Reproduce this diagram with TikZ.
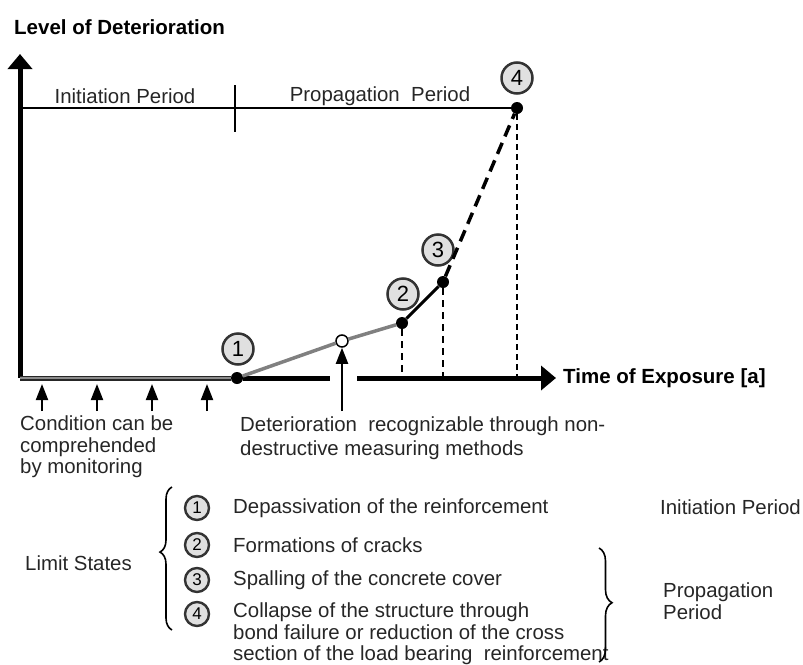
\documentclass[tikz,border=0pt]{standalone}
\usepackage{fontspec}
\setmainfont{Liberation Sans}
\usetikzlibrary{arrows.meta,decorations.pathreplacing}
\newcommand{\txtfont}{\fontsize{20.4}{21.5}\selectfont}
\newcommand{\boldfont}{\fontsize{20.5}{24}\selectfont\bfseries}
\begin{document}
\begin{tikzpicture}[x=1pt,y=-1pt,
	txt/.style={font=\txtfont, text=black!85, inner sep=0pt},
	dot/.style={fill=black, circle, inner sep=0pt, minimum size=12pt},
	opendot/.style={fill=white, draw=black, line width=1.5pt, circle, inner sep=0pt, minimum size=12pt},
	num/.style={circle, fill=black!12, draw=black!80, line width=2.5pt, inner sep=0pt, minimum size=31pt, font=\fontsize{22}{22}\selectfont},
	smallnum/.style={num, minimum size=24pt, line width=2.4pt, font=\fontsize{17}{17}\selectfont},
	axis/.style={line width=5pt, -{Triangle[width=24pt,length=15pt]}},
	uparrow/.style={line width=2pt, -{Triangle[width=12pt,length=16pt]}},
	drop/.style={line width=2pt, dash pattern=on 7pt off 5pt}]
	\useasboundingbox (0,0) rectangle (803,664);
	\node [anchor=west, font=\boldfont, inner sep=0pt] (ylabel) at (14,27) {Level of Deterioration};
	\coordinate (o) at (20,378);
	\coordinate (ytop) at (20,54);
	\draw [axis] (o) -- (ytop);
	\node [dot] (p1) at (237,378) {};
	\node [opendot] (q) at (342,341) {};
	\node [dot] (p2) at (402,323) {};
	\node [dot] (p3) at (443,282) {};
	\node [dot] (p4) at (517,108) {};
	\node [num] (l1) at (238,349) {1};
	\node [num] (l2) at (403,294) {2};
	\node [num] (l3) at (438,250) {3};
	\node [num] (l4) at (517,78) {4};
	% periods
	\coordinate (t0) at (20,108);
	\coordinate (ta) at (235,85);
	\coordinate (tb) at (235,132);
	\draw [line width=2pt] (t0) -- (p4);
	\draw [line width=2pt] (ta) -- (tb);
	\node [txt] (ini) at (125,96) {Initiation Period};
	\node [txt] (prop) at (380,96) {Propagation\ \ Period};
	% time axis
	\coordinate (gapl) at (330,378);
	\coordinate (gapr) at (357,378);
	\coordinate (xend) at (556,378);
	\draw [line width=5pt, black!85] (o) -- (p1);
	\draw [line width=2.5pt, black!45] (o) -- (p1);
	\draw [line width=5pt] (p1) -- (gapl);
	\draw [axis] (gapr) -- (xend);
	\node [anchor=west, font=\boldfont, inner sep=0pt] (xlabel) at (563,378) {Time of Exposure [a]};
	% curve
	\draw [line width=3.5pt, black!50] (p1) -- (q) -- (p2);
	\draw [line width=3pt] (p2) -- (p3);
	\draw [line width=3.5pt, dash pattern=on 12pt off 7pt] (p3) -- (p4);
	\draw [drop] (p2) -- (p2 |- o);
	\draw [drop] (p3) -- (p3 |- o);
	\draw [line width=1.5pt, dash pattern=on 6pt off 4pt] (p4) -- (p4 |- o);
	% monitoring
	\foreach \x [count=\i] in {42,97,152,207} {
		\coordinate (ma\i) at (\x,411);
		\coordinate (mb\i) at (\x,384);
		\draw [uparrow] (ma\i) -- (mb\i);
	}
	\coordinate (nd) at (342,411);
	\draw [uparrow] (nd) -- (q);
	\node [txt, anchor=north west, align=left] (cond) at (20,416) {Condition can be\\comprehended\\by monitoring};
	\node [txt, anchor=north west, align=left, font=\fontsize{20.4}{24}\selectfont] (ndt) at (240,417) {Deterioration\ \ recognizable through non-\\destructive measuring methods};
	% limit states
	\foreach \n/\y/\t in {1/508/Depassivation of the reinforcement, 2/545/Formations of cracks, 3/580/Spalling of the concrete cover} {
		\node [smallnum] (s\n) at (197,\y) {\n};
		\node [txt, anchor=west] (d\n) at (233,\y) {\t};
	}
	\node [smallnum] (s4) at (197,614) {4};
	\node [txt, anchor=west, align=left] (d4) at (233,634) {Collapse of the structure through\\bond failure or reduction of the cross\\section of the load bearing\ \ reinforcement};
	\coordinate (ba) at (172,630);
	\coordinate (bb) at (172,487);
	\draw [line width=1.6pt, decorate, decoration={brace, amplitude=12pt, aspect=0.545}] (ba) -- (bb);
	\node [txt, anchor=west] (ls) at (25,563) {Limit States};
	\coordinate (bc) at (599,548);
	\coordinate (bd) at (599,662);
	\draw [line width=1.6pt, decorate, decoration={brace, amplitude=13pt, aspect=0.48}] (bc) -- (bd);
	\node [txt, anchor=west] (ip) at (660,507) {Initiation Period};
	\node [txt, anchor=west, align=left] (pp) at (663,601) {Propagation\\Period};
\end{tikzpicture}
\end{document}
